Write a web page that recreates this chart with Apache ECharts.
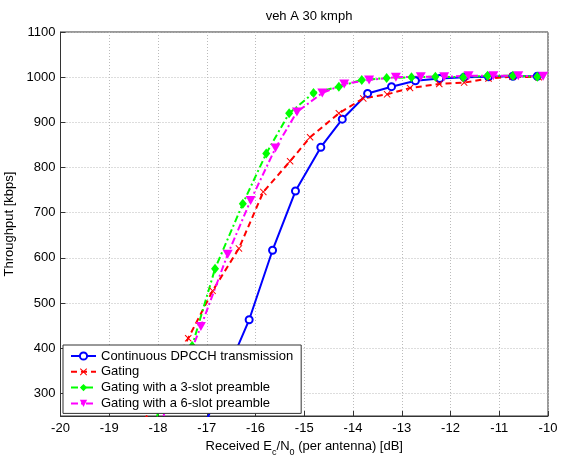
<!DOCTYPE html>
<html><head><meta charset="utf-8">
<script src="https://cdn.jsdelivr.net/npm/echarts@6/dist/echarts.min.js"></script>
<style>html,body{margin:0;padding:0;background:#fff}#c{width:561px;height:455px}</style>
</head><body><div id="c"></div>
<script>
const seriesNames = ['Continuous DPCCH transmission','Gating','Gating with a 3-slot preamble','Gating with a 6-slot preamble'];
const continuousData = [[-17.1,215],[-16.62,340],[-16.13,463],[-15.65,617],[-15.18,748],[-14.66,845],[-14.22,907],[-13.70,964],[-13.21,979],[-12.72,992],[-12.22,997],[-11.72,1000],[-11.22,1001],[-10.72,1002],[-10.22,1002]];
const gatingData = [[-18.38,220],[-17.88,320],[-17.38,422],[-16.88,527],[-16.34,621],[-15.84,746],[-15.29,814],[-14.88,867],[-14.29,920],[-13.79,953],[-13.30,962],[-12.83,976],[-12.23,985],[-11.72,988],[-11.22,997],[-10.73,1001],[-10.19,1000]];
const preamble3Data = [[-18.3,190],[-17.8,298],[-17.3,405],[-16.83,576],[-16.26,720],[-15.78,831],[-15.31,920],[-14.81,965],[-14.29,979],[-13.82,994],[-13.31,998],[-12.80,1000],[-12.31,1001],[-11.74,1000],[-11.24,1003],[-10.72,1003],[-10.22,1001]];
const preamble6Data = [[-18.1,200],[-17.62,314],[-17.12,448],[-16.57,608],[-16.10,727],[-15.59,843],[-15.15,923],[-14.63,965],[-14.18,985],[-13.67,994],[-13.12,1000],[-12.61,1001],[-12.13,1001],[-11.63,1003],[-11.12,1003],[-10.61,1003],[-10.10,1002]];
const xRange = [-20, -10];
const yRange = [250, 1100];

const FONT = 'Liberation Sans, Arial, sans-serif';
const FS = 13;
const crossPath = 'path://M0,1L1,0L5,4L9,0L10,1L6,5L10,9L9,10L5,6L1,10L0,9L4,5Z';
const chart = echarts.init(document.getElementById('c'));
const axisCommon = {
  axisLine: {show: true, onZero: false, lineStyle: {color: '#333', width: 1}},
  axisTick: {show: true, inside: true, length: 5, lineStyle: {color: '#333'}},
  splitLine: {show: true, lineStyle: {color: '#bbb', type: [1, 2], width: 1}},
  axisLabel: {color: '#000', fontFamily: FONT, fontSize: FS, formatter: v => String(v)},
};
chart.setOption({
  animation: false,
  backgroundColor: '#fff',
  textStyle: {fontFamily: FONT},
  title: {text: 'veh A 30 kmph', left: 304, top: 5, textAlign: 'center',
    textStyle: {fontFamily: FONT, fontSize: FS, fontWeight: 'normal', color: '#000'}},
  grid: {left: 60.5, right: 13, top: 32, bottom: 39, containLabel: false, outerBoundsMode: 'none',
    show: true, borderColor: '#333', borderWidth: 1, backgroundColor: '#fff'},
  legend: {
    orient: 'vertical', left: 63, top: 345,
    data: seriesNames,
    backgroundColor: '#fff', borderColor: '#333', borderWidth: 1,
    padding: [4, 8, 3, 7], itemGap: 1.8, itemWidth: 25, itemHeight: 9,
    textStyle: {fontFamily: FONT, fontSize: FS, color: '#000', lineHeight: 14}
  },
  xAxis: Object.assign({}, axisCommon, {
    type: 'value', min: xRange[0], max: xRange[1], interval: 1,
    axisLabel: Object.assign({}, axisCommon.axisLabel, {margin: 6}),
    name: 'Received E{s|c}/N{s|0} (per antenna) [dB]', nameLocation: 'middle', nameGap: 21,
    nameTextStyle: {fontFamily: FONT, fontSize: FS, color: '#000',
      rich: {s: {fontFamily: FONT, fontSize: 9, color: '#000', verticalAlign: 'bottom', padding: [0, 0, -4, 0]}}}
  }),
  yAxis: Object.assign({}, axisCommon, {
    type: 'value', min: yRange[0], max: yRange[1], splitNumber: 8,
    axisLabel: Object.assign({}, axisCommon.axisLabel, {margin: 5, showMinLabel: false}),
    name: 'Throughput [kbps]', nameLocation: 'middle', nameGap: 39, nameRotate: 90,
    nameTextStyle: {fontFamily: FONT, fontSize: FS, color: '#000'}
  }),
  series: [
    {name: seriesNames[0], type: 'line', data: continuousData, clip: true,
      symbol: 'emptyCircle', symbolSize: 7, color: '#0000ff',
      lineStyle: {color: '#0000ff', width: 2, type: 'solid'},
      itemStyle: {color: '#0000ff', borderColor: '#0000ff', borderWidth: 1.5}},
    {name: seriesNames[1], type: 'line', data: gatingData, clip: true,
      symbol: crossPath, symbolSize: 7, color: '#ff0000',
      lineStyle: {color: '#ff0000', width: 2, type: [6, 4]},
      itemStyle: {color: '#ff0000'}},
    {name: seriesNames[2], type: 'line', data: preamble3Data, clip: true,
      symbol: 'diamond', symbolSize: [8, 10], color: '#00ff00',
      lineStyle: {color: '#00ff00', width: 2, type: [7, 3, 2, 3]},
      itemStyle: {color: '#00ff00'}},
    {name: seriesNames[3], type: 'line', data: preamble6Data, clip: true,
      symbol: 'triangle', symbolRotate: 180, symbolSize: [10, 9], color: '#ff00ff',
      lineStyle: {color: '#ff00ff', width: 2, type: [7, 3, 2, 3]},
      itemStyle: {color: '#ff00ff'}}
  ]
});
</script></body></html>
